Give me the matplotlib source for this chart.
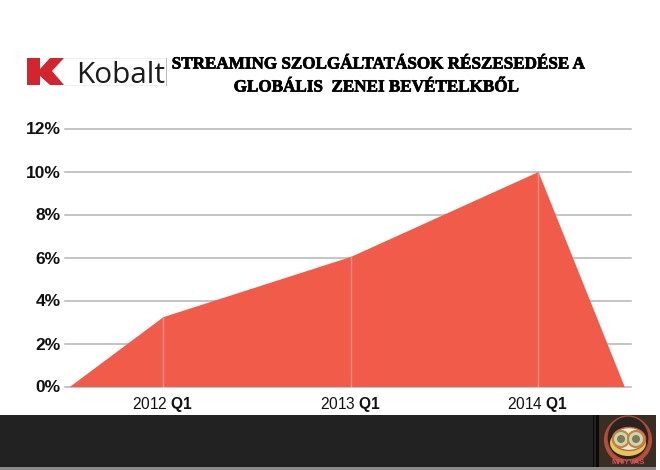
import matplotlib
matplotlib.use("Agg")
import matplotlib.pyplot as plt
import matplotlib.patheffects as pe
from matplotlib.patches import Polygon, Rectangle, Circle, Ellipse, Wedge

# adatok
positions = [-0.5, 0, 1, 2, 2.46]
shares = [0, 3.25, 6.05, 10, 0]
quarter_pos = [0, 1, 2]
quarter_vals = [3.25, 6.05, 10]
quarter_labels = ["2012", "2013", "2014"]
quarter_suffix = "Q1"
y_ticks = [0, 2, 4, 6, 8, 10, 12]
title_lines = ["STREAMING SZOLGÁLTATÁSOK RÉSZESEDÉSE A", "GLOBÁLIS  ZENEI BEVÉTELKBŐL"]

plt.rcParams["font.family"] = ["Liberation Sans", "DejaVu Sans"]
plt.rcParams["mathtext.fontset"] = "custom"
plt.rcParams["mathtext.bf"] = "Liberation Sans:bold"
plt.rcParams["mathtext.rm"] = "Liberation Sans"

W, H = 660, 470
fig = plt.figure(figsize=(W / 100, H / 100), dpi=100, facecolor="white")

# fo diagram, pixelben megadott hely
left, right, top, bottom = 65, 631, 128.5, 386.5
ax = fig.add_axes([left / W, 1 - bottom / H, (right - left) / W, (bottom - top) / H])
ax.set_xlim((left - 163) / 187.5, (right - 163) / 187.5)
ax.set_ylim(0, 12)
for s in ax.spines.values():
    s.set_visible(False)
ax.set_yticks(y_ticks)
ax.set_yticklabels([f"{v}%" for v in y_ticks], fontsize=12.5, fontweight="bold", color="#111111")
ax.set_xticks(quarter_pos)
ax.set_xticklabels([f"{q} $\\mathbf{{{quarter_suffix}}}$" for q in quarter_labels], fontsize=11.2, color="#111111")
ax.tick_params(axis="both", length=0)
ax.tick_params(axis="x", pad=6)
ax.tick_params(axis="y", pad=3)
ax.grid(axis="y", color="#b4b4b4", linewidth=1.1, clip_on=False)
ax.set_axisbelow(True)
ax.fill_between(positions, shares, 0, color="#f15b4a", linewidth=0, zorder=2)
ax.vlines(quarter_pos, 0, quarter_vals, color="#f69084", linewidth=1, zorder=3)

# felso es also reteg pixelkoordinatakkal
ov = fig.add_axes([0, 0, 1, 1], facecolor="none")
ov.set_xlim(0, W)
ov.set_ylim(H, 0)
ov.axis("off")

# Kobalt logo
ov.add_patch(Polygon([(27, 58), (40, 58), (40, 69), (50, 58), (64, 58), (52, 71), (64, 85),
                      (50, 85), (40, 76), (40, 85), (27, 85)], color="#d3252e", lw=0))
ov.text(76, 83, "Kobalt", fontsize=21.5, color="#1c1c1c", va="baseline", ha="left", family="Open Sans")
ov.plot([64, 165.5], [58, 58], color="#efefef", lw=0.7)
ov.plot([64, 165.5], [85, 85], color="#efefef", lw=0.7)
ov.plot([165.5, 165.5], [58, 85], color="#b8b8b8", lw=0.7)

# cim
stroke = [pe.withStroke(linewidth=0.5, foreground="black")]
ov.text(379.5, 64.5, title_lines[0], fontsize=12.3, fontweight="bold", family="Liberation Serif", ha="center", va="center", color="black", path_effects=stroke)
ov.text(377, 87.5, title_lines[1], fontsize=12.3, fontweight="bold", family="Liberation Serif", ha="center", va="center", color="black", path_effects=stroke)

# sotet lablec
ov.add_patch(Rectangle((0, 415), 656, 52, color="#222222", lw=0))
ov.add_patch(Rectangle((0, 467), 656, 3, color="#8a8a8a", lw=0))
ov.add_patch(Rectangle((592.5, 415), 1.5, 52, color="#0a0a0a", lw=0))
ov.add_patch(Rectangle((596, 415), 2.5, 52, color="#0a0a0a", lw=0))
ov.add_patch(Rectangle((598.5, 415), 57.5, 52, color="#3a2d22", lw=0))

# embléma
ov.add_patch(Wedge((628, 440), 24, 100, 260, width=5, fc="#b8503c", lw=0))
ov.add_patch(Wedge((628, 440), 24, -80, 80, width=5, fc="#b8503c", lw=0))
ov.add_patch(Ellipse((628, 438), 42, 44, fc="#2b2320", ec="#a84a38", lw=1))
ov.add_patch(Ellipse((628, 443), 36, 26, fc="#e3c65a", lw=0))
ov.add_patch(Ellipse((629, 439), 33, 23, fc="#e6efd8", ec="#c9603f", lw=1))
ov.add_patch(Circle((621, 439), 8, fc="#c7d9b0", ec="#c9803f", lw=1.5))
ov.add_patch(Circle((636, 439), 8, fc="#c7d9b0", ec="#c9803f", lw=1.5))
ov.add_patch(Circle((621, 439), 4, fc="#7f7a5c", lw=0))
ov.add_patch(Circle((636, 439), 4, fc="#7f7a5c", lw=0))
ov.text(628, 463, "MITYVAS", fontsize=5.5, fontweight="bold", color="#d8505a", ha="center", va="center")

fig.savefig("out.png", dpi=100)
